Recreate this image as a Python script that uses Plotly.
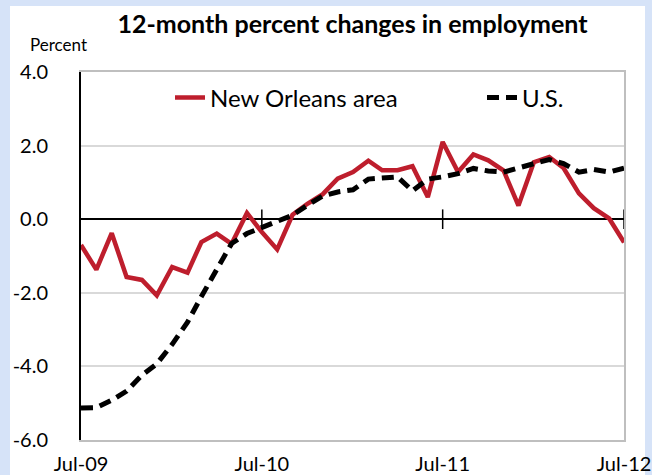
import pandas as pd
import plotly.graph_objects as go

months = pd.date_range("2009-07-01", "2012-07-01", freq="MS")

new_orleans = [-0.70, -1.37, -0.38, -1.57, -1.65, -2.07, -1.30, -1.45, -0.62, -0.39, -0.67, 0.17,
               -0.35, -0.82, 0.12, 0.42, 0.68, 1.10, 1.28, 1.59, 1.33, 1.33, 1.44, 0.60,
               2.10, 1.28, 1.76, 1.60, 1.32, 0.37, 1.55, 1.69, 1.39, 0.70, 0.30, 0.02,
               -0.63]
us = [-5.13, -5.12, -4.92, -4.67, -4.24, -3.93, -3.40, -2.80, -2.10, -1.39, -0.66, -0.39,
      -0.23, -0.04, 0.11, 0.38, 0.63, 0.74, 0.80, 1.09, 1.11, 1.15, 0.77, 1.09,
      1.15, 1.24, 1.38, 1.31, 1.28, 1.41, 1.51, 1.62, 1.51, 1.28, 1.35, 1.28,
      1.39]

tick_dates = ["2009-07-01", "2010-07-01", "2011-07-01", "2012-07-01"]
tick_labels = ["Jul-09", "Jul-10", "Jul-11", "Jul-12"]
y_ticks = [-6, -4, -2, 0, 2, 4]
y_labels = ["-6.0", "-4.0", "-2.0", "0.0", "2.0", "4.0"]

FONT = "Lato"
RED = "#BE1E2D"
BLUE_BG = "#D6E3F8"

W, H = 652, 475
L, R, T, B = 81, 28, 72, 35
pw, ph = W - L - R, H - T - B


def px_x(x):
    return (x - L) / pw


def px_y(y):
    return (H - B - y) / ph


fig = go.Figure()

fig.add_trace(go.Scatter(
    x=months, y=new_orleans, mode="lines", name="New Orleans area",
    line=dict(color=RED, width=4.5), legend="legend",
))
fig.add_trace(go.Scatter(
    x=months, y=us, mode="lines", name="U.S.",
    line=dict(color="black", width=5, dash="12px,7px"), legend="legend2",
))
# tick marks crossing the zero line
fig.add_trace(go.Scatter(
    x=tick_dates[1:], y=[0] * 3, mode="markers", showlegend=False, hoverinfo="skip",
    marker=dict(symbol="line-ns-open", size=14, color="black",
                line=dict(color="black", width=1.5)),
))
# right border axis
fig.add_trace(go.Scatter(x=[months[0]], y=[None], yaxis="y2", showlegend=False, hoverinfo="skip"))

leg_common = dict(orientation="h", xanchor="left", yanchor="middle",
                  bgcolor="rgba(0,0,0,0)", font=dict(family=FONT, size=24, color="black"))

fig.update_layout(
    width=W, height=H,
    margin=dict(l=L, r=R, t=T, b=B, autoexpand=False),
    paper_bgcolor=BLUE_BG,
    plot_bgcolor="white",
    font=dict(family=FONT, size=20, color="black"),
    title=dict(
        text="<b>12-month percent changes in employment</b>",
        x=0.5, xref="paper", xanchor="center",
        y=1 - 24 / H, yref="container", yanchor="middle",
        font=dict(family=FONT, size=25, color="black"),
    ),
    showlegend=True,
    legend=dict(x=px_x(170), y=px_y(98), **leg_common),
    legend2=dict(x=px_x(482), y=px_y(98), **leg_common),
    xaxis=dict(
        type="date",
        range=["2009-07-01", "2012-07-01"],
        tickvals=tick_dates, ticktext=tick_labels,
        showgrid=False, zeroline=False,
        showline=True, linecolor="#BFBFBF", linewidth=1.5, mirror=True,
        ticks="", ticklabelstandoff=5, automargin=False,
        tickfont=dict(family=FONT, size=20),
    ),
    yaxis=dict(
        range=[-6, 4],
        tickvals=y_ticks, ticktext=y_labels,
        showgrid=True, gridcolor="#D9D9D9", gridwidth=1.5,
        zeroline=True, zerolinecolor="black", zerolinewidth=1.5,
        showline=True, linecolor="black", linewidth=2,
        ticks="", ticklabelstandoff=27, automargin=False,
        tickfont=dict(family=FONT, size=20),
    ),
    yaxis2=dict(
        overlaying="y", side="right", range=[-6, 4],
        showline=True, linecolor="#BFBFBF", linewidth=1.5, automargin=False,
        showticklabels=False, showgrid=False, zeroline=False, ticks="",
    ),
    shapes=[dict(
        type="rect", xref="paper", yref="paper", layer="below",
        x0=px_x(10), x1=px_x(645), y0=px_y(H + 5), y1=px_y(6),
        fillcolor="white", line=dict(width=0),
    )],
    annotations=[dict(
        text="Percent", xref="paper", yref="paper",
        x=px_x(58), y=px_y(45), xanchor="center", yanchor="middle",
        showarrow=False, font=dict(family=FONT, size=17, color="black"),
    )],
)

fig.write_html(
    "out.html",
    config={"displayModeBar": False},
    post_script="document.body.style.margin='0';document.body.style.padding='0';",
)
